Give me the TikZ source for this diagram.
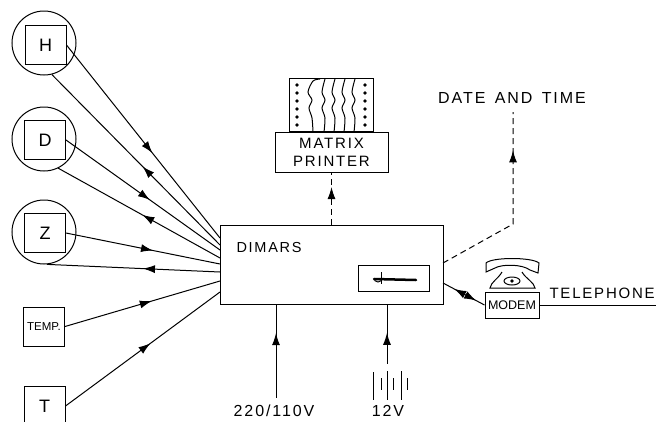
\documentclass[tikz,border=0pt]{standalone}
\usepackage{fontspec}
\setmainfont{Liberation Sans}
\newfontfamily\spaced[LetterSpace=12]{Liberation Sans}
\usetikzlibrary{positioning,arrows.meta,decorations.markings}
\tikzset{
  headfwd/.style={postaction={decorate,decoration={markings,mark=at position #1 with {\arrow{Latex[length=12pt,width=8pt]}}}}},
  headrev/.style={postaction={decorate,decoration={markings,mark=at position #1 with {\arrowreversed{Latex[length=12pt,width=8pt]}}}}},
  sensorbox/.style={draw,minimum width=41,minimum height=39,inner sep=0,font=\fontsize{18}{20}\selectfont},
  sensorring/.style={draw,circle,minimum size=64,inner sep=0},
  caption/.style={inner sep=0,font=\spaced\fontsize{16}{18}\selectfont},
  dashline/.style={dash pattern=on 6pt off 4pt}
}
\begin{document}
\begin{tikzpicture}[x=1pt,y=-1pt,line width=1pt]
\clip (0,0) rectangle (656,421);
\node[sensorring] (Hring) at (44,43) {};
\node[sensorring] (Dring) at (44,139) {};
\node[sensorring] (Zring) at (44,232) {};
\node[sensorbox] (H) at (45.5,45) {H};
\node[sensorbox] (D) at (45,140) {D};
\node[sensorbox] (Z) at (45,233) {Z};
\node[sensorbox,font=\fontsize{11.5}{13}\selectfont] (temp) at (44,326.5) {TEMP.};
\node[sensorbox,minimum height=40] (T) at (44.5,406) {T};
\node[draw,minimum width=223,minimum height=79,inner sep=0] (dimars) at (331.5,264.5) {};
\node[caption,anchor=west,font=\spaced\fontsize{14.5}{18}\selectfont] (dimarstext) at (236,248) {DIMARS};
\node[draw,minimum width=71,minimum height=26] (slot) at (393.5,278) {};
\node[draw,minimum width=113,minimum height=40,inner sep=0,align=center,caption,font=\spaced\fontsize{15}{18}\selectfont] (printer) at (331.5,152) {MATRIX\\PRINTER};
\node[draw,minimum width=84,minimum height=53,above=0pt of printer] (paper) {};
\node[draw,minimum width=54,minimum height=26,inner sep=0,font=\fontsize{12.5}{14}\selectfont] (modem) at (512,305) {MODEM};
\node[caption] (datetext) at (512,98) {DATE\hspace{3pt} AND\hspace{3pt} TIME};
\node[caption,anchor=west,font=\spaced\fontsize{15}{18}\selectfont] (phonetext) at (549,293) {TELEPHONE};
\node[caption] (mains) at (274,411) {220/110V};
\node[caption] (volts) at (388,411) {12V};
\coordinate (in1) at (220,238);
\coordinate (in2) at (220,245);
\coordinate (in3) at (220,250);
\coordinate (in4) at (220,258);
\coordinate (in5) at (220,264);
\coordinate (in6) at (220,272);
\coordinate (in7) at (220,281);
\coordinate (in8) at (220,292);
% sensors to and from the unit
\foreach \from/\to/\where in {H.east/in1/.56,D.east/in3/.545,Z.east/in5/.565,temp.east/in7/.56,T.east/in8/.55}
  \draw[headfwd=\where] (\from) -- (\to);
\foreach \from/\to/\where in {Hring.-76/in2/.54,Dring.-64/in4/.52,Zring.-85/in6/.555}
  \draw[headrev=\where] (\from) -- (\to);
\draw[dashline,headfwd=.72] (dimars.north) -- (printer.south);
\coordinate (dateout) at (443,263);
\coordinate (datebend) at (513,224);
\coordinate (dateend) at (513,112);
\draw[dashline,headfwd=.8] (dateout) -- (datebend) -- (dateend);
\coordinate (modemout) at (443,283);
\draw[headrev=.27,headfwd=.8] (modemout) -- (modem.west);
\coordinate (lineend) at (656,305);
\draw (modem.east) -- (lineend);
\coordinate (mainsup) at (276,304);
\coordinate (mainsdown) at (276,398);
\draw[headrev=.31] (mainsup) -- (mainsdown);
\coordinate (battup) at (387,304);
\coordinate (battdown) at (387,364);
\draw[headrev=.48] (battup) -- (battdown);
% battery
\foreach \x/\a/\b in {373/372/400,381/378/390,387/371/400,393/378/390,401/371/400,407/378/390}
  \draw (\x,\a) -- (\x,\b);
% paper in the printer
\foreach \y in {85,93,...,125} {
  \fill (297,\y) circle (1.8);
  \fill (365,\y) circle (1.8);
}
\draw plot[smooth] coordinates {(320,79) (313,81) (308,92) (312,100) (309,108) (312,118) (313,132)};
\foreach \dx in {10,20,30,40}
  \draw[xshift=\dx] plot[smooth] coordinates {(315,79) (312,92) (315,100) (312,108) (315,118) (314,132)};
% key in the slot
\draw[line width=2.5pt,line cap=round] (374,279) -- (416,280);
\draw (374,278) arc (180:0:4);
\draw (381,272) -- (381,284);
% telephone
\draw (486,272) -- (486,263) .. controls (492,257) and (532,257) .. (539,263) -- (538,273) -- (530,270) .. controls (522,264) and (502,264) .. (495,268) -- cycle;
\draw (502,272) .. controls (498,279) and (491,282) .. (490,288) -- (535,288) .. controls (534,282) and (526,279) .. (522,272);
\draw (512,281) ellipse (8 and 4);
\fill (512,281) circle (1.8);
\end{tikzpicture}
\end{document}
